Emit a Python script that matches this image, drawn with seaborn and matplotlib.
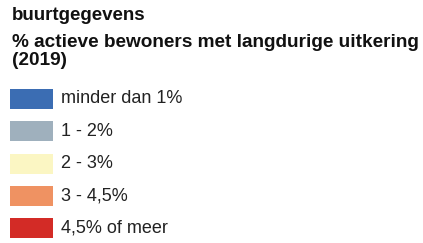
import matplotlib
matplotlib.use('Agg')
import matplotlib.pyplot as plt
import seaborn as sns

# legend data
klassen = ['minder dan 1%', '1 - 2%', '2 - 3%', '3 - 4,5%', '4,5% of meer']
kleuren = ['#3b6db3', '#9fb0bd', '#fbf6c3', '#ef9262', '#d32b26']
titel = 'buurtgegevens'
ondertitel = '% actieve bewoners met langdurige uitkering\n(2019)'

sns.set_style('white')
plt.rcParams['font.family'] = ['Liberation Sans', 'DejaVu Sans']

W, H = 423, 243
fig = plt.figure(figsize=(W / 100, H / 100), dpi=100)

fig.text(12 / W, 1 - 16 / H, titel, fontsize=13.5, fontweight='bold', va='center', color='#111111')
fig.text(12 / W, 1 - 34 / H, ondertitel, fontsize=13.7, fontweight='bold', va='top',
         color='#111111', linespacing=1.08)

# swatches as bars
ax = fig.add_axes([10 / W, 0, (W - 10) / W, 1 - 82.7 / H])
sns.barplot(x=[1] * len(klassen), y=klassen, hue=klassen, palette=kleuren, saturation=1,
            orient='h', width=0.62, legend=False, ax=ax, edgecolor='none')
ax.set_xlim(0, (W - 10) / 43)
ax.set_ylim(4.45, -0.5)
for i, k in enumerate(klassen):
    ax.text(1.19, i, k, va='center', ha='left', fontsize=13, color='#222222')
ax.axis('off')

fig.savefig('out.png', dpi=100)
